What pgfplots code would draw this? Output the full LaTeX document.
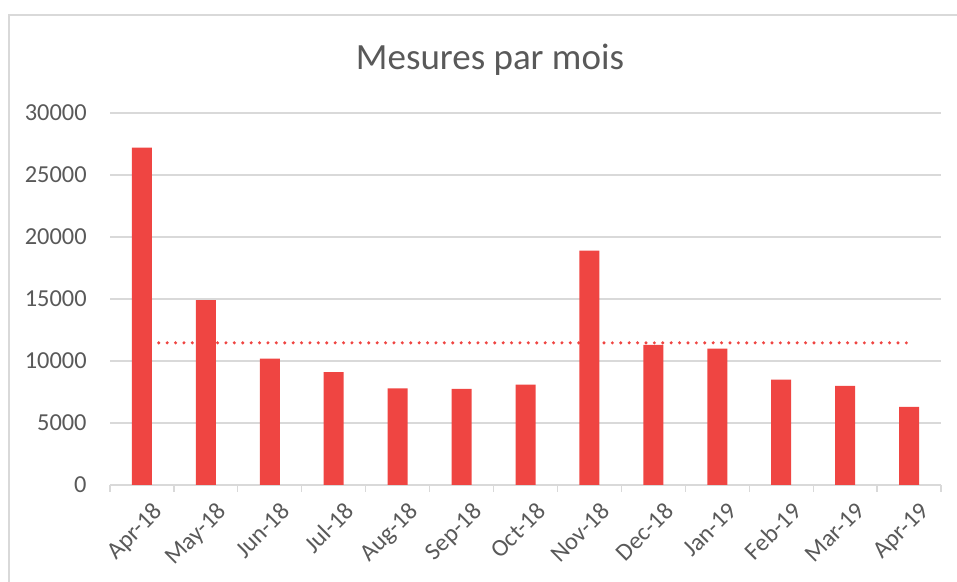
\documentclass[border=0pt]{standalone}
\usepackage{fontspec}
\setmainfont{Carlito}
\usepackage{pgfplots}
\pgfplotsset{compat=1.18}

\definecolor{barred}{RGB}{239,69,66}
\definecolor{gridgray}{RGB}{217,217,217}
\definecolor{txtgray}{RGB}{89,89,89}

\begin{document}
\begin{tikzpicture}
\useasboundingbox (0,0) rectangle (478.5pt,291pt);
% chart border (only top and left visible)
\draw[gridgray, line width=0.7pt] (4.5pt,0) -- (4.5pt,283.5pt) -- (478.5pt,283.5pt);

\node[font=\fontsize{18.5}{22}\selectfont, text=txtgray] at (245pt,261pt) {Mesures par mois};

\begin{axis}[
    at={(55pt,48.5pt)}, anchor=south west,
    scale only axis,
    width=415.5pt, height=186pt,
    xmin=-0.5, xmax=12.5,
    ymin=0, ymax=30000,
    ytick={0,5000,10000,15000,20000,25000,30000},
    xtick={0,...,12},
    xticklabels={Apr-18,May-18,Jun-18,Jul-18,Aug-18,Sep-18,Oct-18,Nov-18,Dec-18,Jan-19,Feb-19,Mar-19,Apr-19},
    minor xtick={-0.5,0.5,...,12.5},
    axis x line=bottom, axis y line=left,
    x axis line style={draw=gridgray, line width=0.65pt, -},
    y axis line style={draw=none},
    tick align=outside,
    major tick length=0pt,
    minor tick length=3.5pt,
    minor x tick style={draw=gridgray, line width=0.65pt},
    ymajorgrids=true,
    grid style={draw=gridgray, line width=0.65pt},
    scaled y ticks=false,
    /pgf/number format/assume math mode=true,
    yticklabel={\pgfmathprintnumber[fixed, 1000 sep={}]{\tick}},
    ticklabel style={font=\fontsize{12.2}{14}\selectfont, text=txtgray},
    yticklabel style={anchor=east, inner sep=0pt, xshift=-11.5pt},
    xticklabel style={rotate=45, anchor=north east, inner sep=1pt, yshift=-8pt, xshift=-1pt},
    clip=false,
]

% average line (behind bars)
\addplot[barred, line width=1.7pt, line cap=round, dash pattern=on 0pt off 4.2pt] coordinates {
    (0,11465) (1,11465) (2,11465) (3,11465) (4,11465) (5,11465) (6,11465)
    (7,11465) (8,11465) (9,11465) (10,11465) (11,11465) (12,11465)
};

\addplot[ybar, bar width=10pt, fill=barred, draw=none] coordinates {
    (0,27200) (1,14900) (2,10200) (3,9100) (4,7800) (5,7750) (6,8100)
    (7,18900) (8,11300) (9,11000) (10,8500) (11,8000) (12,6300)
};

\end{axis}
\end{tikzpicture}
\end{document}
